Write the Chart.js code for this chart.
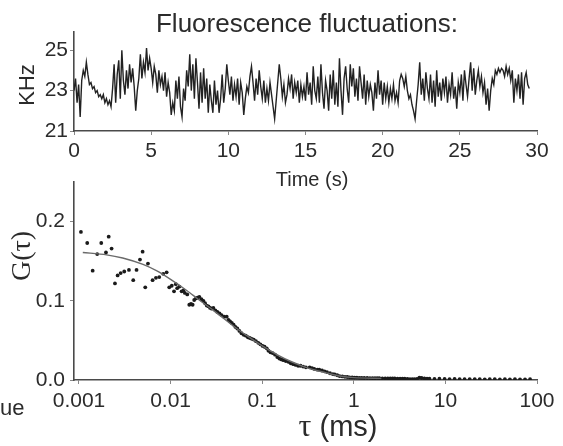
<!DOCTYPE html>
<html>
<head>
<meta charset="utf-8">
<script src="https://cdn.jsdelivr.net/npm/chart.js@4/dist/chart.umd.min.js"></script>
<style>
  html, body { margin: 0; padding: 0; background: #fff; }
  #wrap { position: relative; width: 563px; height: 446px; }
  canvas { position: absolute; left: 0; top: 0; }
</style>
</head>
<body>
<div id="wrap">
  <canvas id="trace" width="563" height="446"></canvas>
  <canvas id="corr" width="563" height="446"></canvas>
</div>
<script>
// top panel: count rate (KHz), one sample every 0.1 s
const sampleStep = 0.1;
const kHz = [
  23.0, 23.6, 22.4, 23.3, 21.7, 23.5, 24.0, 23.7, 24.4, 23.8,
  23.3, 23.4, 23.1, 23.2, 22.9, 23.0, 22.7, 22.8, 22.6, 22.8,
  22.4, 22.6, 22.3, 22.5, 22.2, 23.1, 24.3, 22.4, 23.8, 24.5,
  22.6, 25.0, 23.5, 22.8, 24.0, 23.1, 24.3, 23.4, 24.1, 23.2,
  22.0, 23.0, 23.6, 24.8, 23.6, 24.4, 23.9, 25.1, 24.0, 24.6,
  24.1, 23.4, 24.2, 23.8, 22.9, 24.0, 23.3, 23.7, 23.0, 23.9,
  22.7, 23.4, 22.9, 21.8, 22.4, 22.0, 23.5, 22.6, 23.7, 22.2,
  21.7, 23.1, 22.5, 24.0, 23.2, 24.8, 23.0, 24.3, 22.6, 24.6,
  23.4, 22.1, 23.9, 22.4, 24.1, 22.6, 23.6, 21.9, 23.3, 22.5,
  21.9, 23.5, 22.3, 23.0, 21.9, 22.6, 23.8, 22.4, 23.1, 24.3,
  23.5, 22.8, 23.7, 22.5, 23.3, 22.7, 23.6, 22.3, 23.4, 22.9,
  21.8, 22.6, 23.2, 22.9, 23.7, 24.2, 23.4, 22.5, 23.6, 22.8,
  24.0, 23.2, 22.6, 23.5, 22.4, 23.1, 22.5, 23.4, 22.8, 22.2,
  21.6, 22.5, 23.4, 24.3, 23.6, 22.7, 23.3, 22.4, 22.8, 23.6,
  23.1, 23.8, 22.6, 23.4, 22.9, 23.5, 22.4, 23.3, 22.7, 23.2,
  22.5, 23.9, 22.8, 23.4, 22.3, 24.2, 23.0, 22.6, 23.7, 22.4,
  24.3, 22.9, 22.1, 23.5, 23.0, 22.0, 23.8, 22.6, 24.0, 22.3,
  23.4, 22.2, 24.6, 23.0, 21.8, 23.6, 24.2, 23.1, 22.4, 24.3,
  23.2, 24.1, 22.7, 23.6, 22.5, 24.2, 23.4, 22.6, 23.8, 22.3,
  23.5, 22.7, 23.3, 22.9, 22.0, 23.4, 22.6, 24.0, 22.8, 23.5,
  22.3, 23.4, 22.6, 23.2, 22.4, 23.1, 22.6, 23.3, 22.5, 22.9,
  22.4, 23.5, 23.8, 23.6, 23.2, 23.7, 23.0, 22.6, 22.8, 22.3,
  22.0, 21.6, 22.5, 23.3, 24.4, 22.8, 23.6, 22.5, 23.9, 23.1,
  22.6, 23.8, 22.4, 23.5, 22.2, 24.0, 22.7, 23.4, 22.5, 23.6,
  22.9, 23.7, 22.4, 23.3, 22.8, 23.9, 22.6, 23.2, 22.1, 23.4,
  22.9, 23.8, 22.5, 24.0, 23.3, 22.7, 23.6, 24.4, 23.0, 24.1,
  22.8, 23.5, 24.0, 23.2, 23.7, 22.9, 23.4, 22.3, 23.1, 22.0,
  23.0, 23.6, 23.3, 24.0, 23.8, 24.1, 23.9, 24.1, 24.0, 23.7,
  24.2, 23.8, 24.1, 23.5, 24.0, 22.4, 23.6, 23.0, 23.8, 22.6,
  23.9, 22.3, 23.6, 23.9, 23.3, 23.1
];
const timeTicks = [0, 5, 10, 15, 20, 25, 30];
const kHzTicks = [21, 23, 25];

// bottom panel: autocorrelation G(tau), tau in ms
const tauData = [
  0.00105, 0.00123, 0.00141, 0.00158, 0.00175, 0.00197, 0.00211, 0.00227, 0.00247, 0.00264,
  0.00285, 0.00312, 0.00351, 0.00391, 0.00425, 0.00463, 0.00495, 0.00529, 0.00566, 0.00636,
  0.00692, 0.00752, 0.00831, 0.00905, 0.00967, 0.0103, 0.0109, 0.0114, 0.0118, 0.0125,
  0.0132, 0.0138, 0.0143, 0.0152, 0.0160, 0.0167, 0.0174, 0.0181, 0.0189, 0.0197,
  0.0206, 0.0217, 0.0228, 0.0238, 0.0248, 0.0259, 0.0270, 0.0282, 0.0293, 0.0308,
  0.0324, 0.0342, 0.0360, 0.0385, 0.0410, 0.0428, 0.0446, 0.0466, 0.0487, 0.0510,
  0.0535, 0.0564, 0.0594, 0.0628, 0.0663, 0.0698, 0.0733, 0.0770, 0.0808, 0.0855,
  0.0906, 0.0955, 0.101, 0.106, 0.112, 0.117, 0.123, 0.130, 0.138, 0.146,
  0.154, 0.162, 0.170, 0.181, 0.193, 0.205, 0.218, 0.232, 0.247, 0.262,
  0.280, 0.300, 0.33, 0.35, 0.37, 0.40, 0.42, 0.45, 0.48, 0.51,
  0.55, 0.59, 0.62, 0.66, 0.70, 0.75, 0.80, 0.85, 0.90, 0.96,
  1.02, 1.08, 1.15, 1.22, 1.3, 1.4, 1.5, 1.6, 1.7, 1.8,
  1.9, 2.05, 2.2, 2.35, 2.5, 2.65, 2.8, 3.0, 3.2, 3.4,
  3.6, 3.85, 4.1, 4.35, 4.6, 4.9, 5.2, 5.5, 5.9, 6.3,
  6.7, 7.6, 8.6, 9.8, 11.1, 12.6, 14.3, 16.2, 18.4, 20.9,
  23.7, 26.9, 30.5, 34.6, 39.3, 44.6, 50.6, 57.4, 65.2, 74.0,
  84.0
];
const gData = [
  0.187, 0.173, 0.138, 0.159, 0.173, 0.161, 0.181, 0.166, 0.122, 0.132,
  0.135, 0.137, 0.139, 0.126, 0.139, 0.152, 0.162, 0.117, 0.147, 0.126,
  0.129, 0.130, 0.134, 0.136, 0.117, 0.119, 0.112, 0.121, 0.116, 0.118,
  0.112, 0.113, 0.110, 0.108, 0.095, 0.096, 0.095, 0.101, 0.103, 0.104,
  0.105, 0.102, 0.100, 0.097, 0.094, 0.093, 0.091, 0.090, 0.091, 0.088,
  0.086, 0.084, 0.082, 0.080, 0.080, 0.076, 0.074, 0.072, 0.070, 0.067,
  0.065, 0.062, 0.059, 0.057, 0.056, 0.054, 0.053, 0.052, 0.051, 0.049,
  0.047, 0.045, 0.043, 0.042, 0.040, 0.037, 0.035, 0.034, 0.032, 0.029,
  0.027, 0.026, 0.025, 0.024, 0.023, 0.021, 0.020, 0.019, 0.018, 0.018,
  0.017, 0.016, 0.016, 0.015, 0.014, 0.013, 0.013, 0.012, 0.011, 0.010,
  0.0085, 0.0075, 0.007, 0.006, 0.005, 0.0045, 0.004, 0.0038, 0.0034, 0.0032,
  0.0030, 0.0031, 0.0028, 0.0026, 0.0025, 0.0025, 0.0024, 0.0023, 0.0022, 0.0024,
  0.0023, 0.0021, 0.0021, 0.0020, 0.0020, 0.0019, 0.0019, 0.0018, 0.0018, 0.0017,
  0.0017, 0.0014, 0.0012, 0.0011, 0.0010, 0.0013, 0.0030, 0.0025, 0.0020, 0.0017,
  0.0016, 0.0015, 0.0016, 0.0014, 0.0012, 0.0013, 0.0012, 0.0011, 0.0012, 0.0010,
  0.0011, 0.0009, 0.0010, 0.0011, 0.0009, 0.0010, 0.0009, 0.0010, 0.0008, 0.0009,
  0.0010
];
// fitted curve
const fitTau = [0.0011, 0.002, 0.003, 0.005, 0.007, 0.01, 0.015, 0.02, 0.03, 0.05, 0.07, 0.1, 0.15, 0.2, 0.3, 0.5, 0.7, 1, 2];
const fitG = [0.161, 0.158, 0.154, 0.146, 0.138, 0.127, 0.113, 0.102, 0.087, 0.067, 0.055, 0.043, 0.031, 0.024, 0.016, 0.009, 0.005, 0.003, 0.002];
const tauTicks = [0.001, 0.01, 0.1, 1, 10, 100];
const tauTickLabels = ['0.001', '0.01', '0.1', '1', '10', '100'];
const gTicks = [0, 0.1, 0.2];

const SANS = '"Liberation Sans", Arial, Helvetica, sans-serif';
const SERIF = '"Liberation Serif", "Times New Roman", serif';
const INK = '#2b2b2b';

function axisStyle(extra) {
  return Object.assign({
    border: { display: true, color: '#4a4a4a', width: 1.6 },
    grid: { display: true, drawOnChartArea: false, drawTicks: true, tickLength: 4, color: '#888' },
    ticks: { color: INK, font: { family: SANS, size: 21 } }
  }, extra);
}

// fixes each axis box so both panels line up with the picture
function fixSize(w, h) {
  return function (scale) {
    if (w != null) scale.width = w;
    if (h != null) scale.height = h;
  };
}

const textPlugin = (id, draw) => ({ id: id, afterDraw(chart) { const c = chart.ctx; c.save(); draw(c); c.restore(); } });

new Chart(document.getElementById('trace'), {
  type: 'line',
  data: {
    datasets: [{
      data: kHz.map((v, i) => ({ x: i * sampleStep, y: v })),
      borderColor: '#222',
      borderWidth: 1.4,
      pointRadius: 0,
      tension: 0
    }]
  },
  options: {
    responsive: false,
    animation: false,
    devicePixelRatio: 1,
    layout: { padding: { top: 32, right: 26, left: 0, bottom: 0 } },
    plugins: { legend: { display: false }, tooltip: { enabled: false } },
    scales: {
      x: axisStyle({
        type: 'linear', min: 0, max: 30,
        afterFit: fixSize(null, 446 - 131),
        afterBuildTicks: (s) => { s.ticks = timeTicks.map(v => ({ value: v })); },
        ticks: { color: INK, font: { family: SANS, size: 21 }, padding: 4, maxRotation: 0 }
      }),
      y: axisStyle({
        type: 'linear', min: 21, max: 25.9,
        afterFit: fixSize(74, null),
        afterBuildTicks: (s) => { s.ticks = kHzTicks.map(v => ({ value: v })); },
        ticks: { color: INK, font: { family: SANS, size: 21 }, padding: 2 }
      })
    }
  },
  plugins: [textPlugin('traceLabels', (c) => {
    c.fillStyle = INK;
    c.textAlign = 'center';
    c.textBaseline = 'alphabetic';
    c.font = '26px ' + SANS;
    c.fillText('Fluorescence fluctuations:', 307, 32);
    c.font = '20px ' + SANS;
    c.fillText('Time (s)', 312, 186);
    c.translate(28, 85);
    c.rotate(-Math.PI / 2);
    c.textBaseline = 'middle';
    c.font = '22px ' + SANS;
    c.fillText('KHz', 0, 0);
  })]
});

new Chart(document.getElementById('corr'), {
  type: 'scatter',
  data: {
    datasets: [{
      type: 'line',
      data: fitTau.map((t, i) => ({ x: t, y: fitG[i] })),
      borderColor: '#6a6a6a',
      borderWidth: 1.4,
      pointRadius: 0,
      tension: 0.3
    }, {
      data: tauData.map((t, i) => ({ x: t, y: gData[i] })),
      backgroundColor: '#1a1a1a',
      borderWidth: 0,
      pointRadius: 1.9
    }]
  },
  options: {
    responsive: false,
    animation: false,
    devicePixelRatio: 1,
    layout: { padding: { top: 182, right: 26, left: 0, bottom: 0 } },
    plugins: { legend: { display: false }, tooltip: { enabled: false } },
    scales: {
      x: axisStyle({
        type: 'logarithmic', min: 0.000882, max: 100,
        afterFit: fixSize(null, 446 - 380),
        afterBuildTicks: (s) => { s.ticks = tauTicks.map(v => ({ value: v })); },
        ticks: {
          color: INK, font: { family: SANS, size: 21 }, padding: 5, maxRotation: 0,
          callback: (v) => tauTickLabels[tauTicks.indexOf(v)]
        }
      }),
      y: axisStyle({
        type: 'linear', min: 0, max: 0.25,
        afterFit: fixSize(74, null),
        afterBuildTicks: (s) => { s.ticks = gTicks.map(v => ({ value: v })); },
        ticks: { color: INK, font: { family: SANS, size: 21 }, padding: 5, callback: (v) => v.toFixed(1) }
      })
    }
  },
  plugins: [textPlugin('corrLabels', (c) => {
    c.fillStyle = INK;
    c.textBaseline = 'alphabetic';
    c.textAlign = 'left';
    c.font = '22px ' + SANS;
    c.fillText('ue', 0, 415);
    // axis title: serif tau, sans units
    c.font = '32px ' + SERIF;
    const tw = c.measureText('\u03c4').width;
    c.font = '29px ' + SANS;
    const uw = c.measureText(' (ms)').width;
    const x0 = 338 - (tw + uw) / 2;
    c.font = '32px ' + SERIF;
    c.fillText('\u03c4', x0, 436);
    c.font = '29px ' + SANS;
    c.fillText(' (ms)', x0 + tw, 436);
    c.translate(23, 256);
    c.rotate(-Math.PI / 2);
    c.textAlign = 'center';
    c.textBaseline = 'middle';
    c.font = '28px ' + SERIF;
    c.fillText('G(\u03c4)', 0, 0);
  })]
});
</script>
</body>
</html>
